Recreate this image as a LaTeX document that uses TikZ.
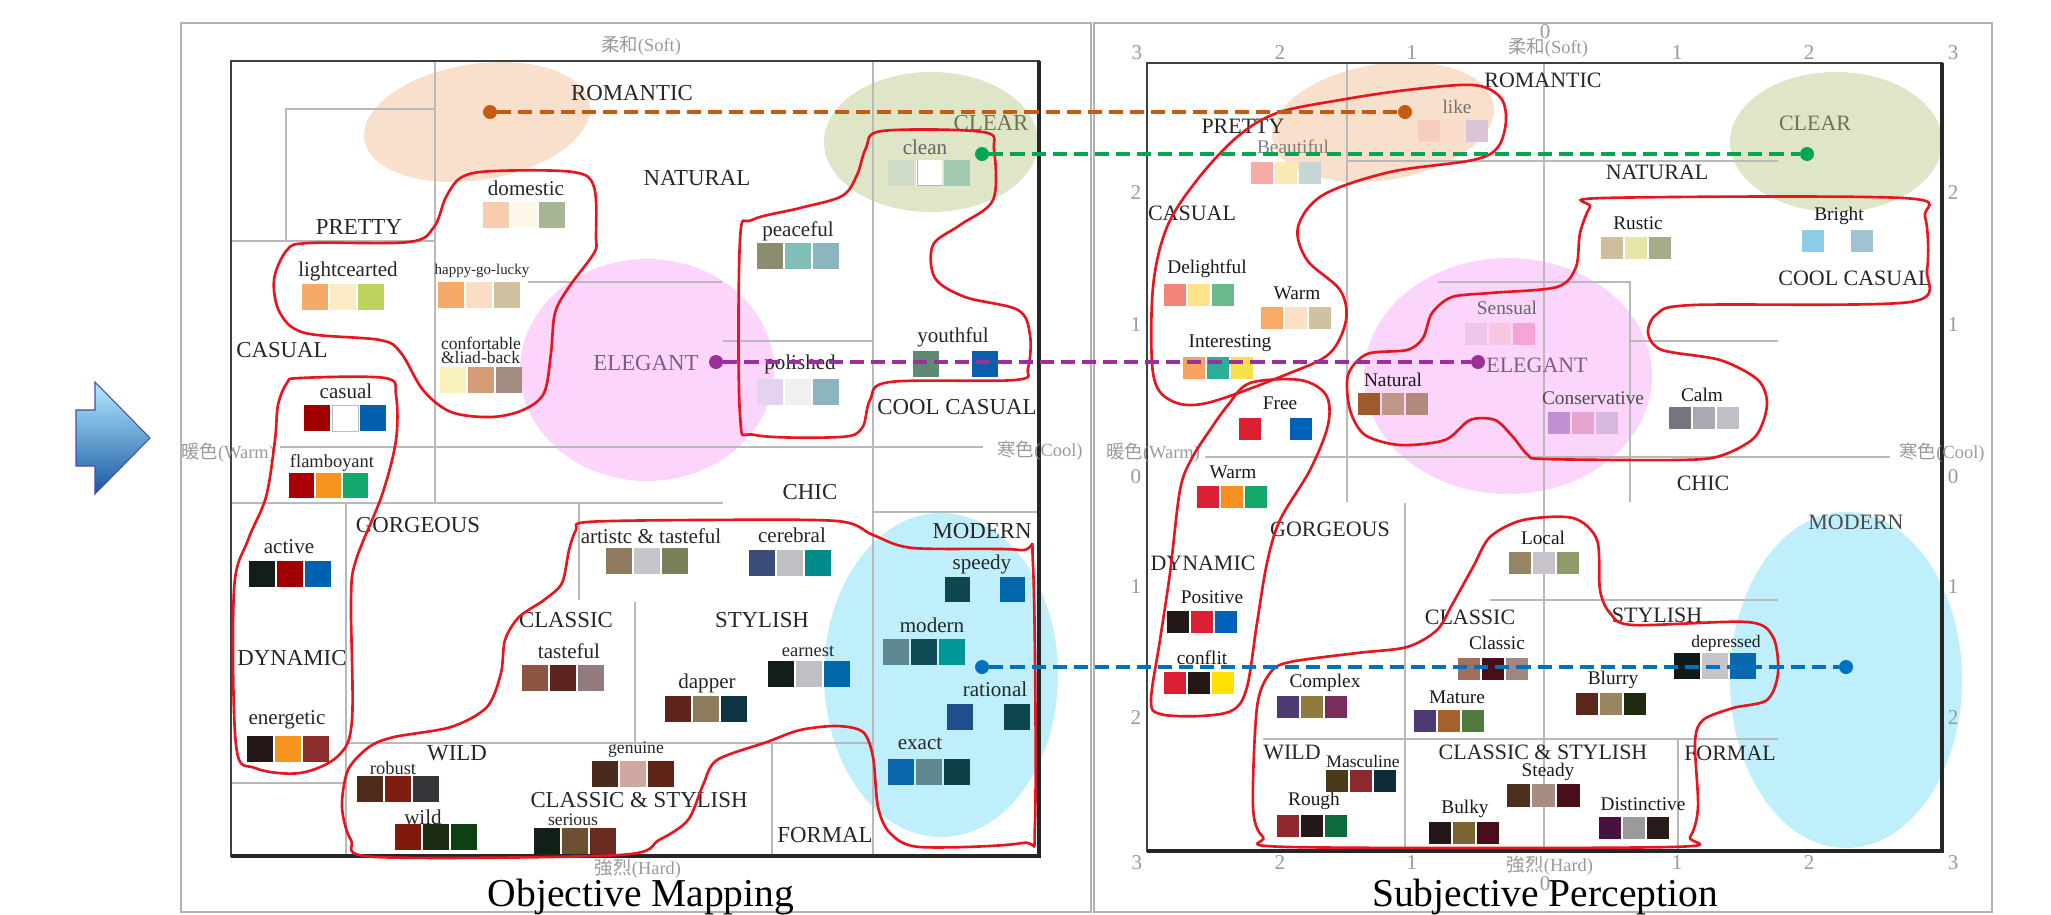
\documentclass[tikz,border=0pt]{standalone}
\usepackage{fontspec}
\setmainfont{Liberation Serif}
\newfontfamily\cjk{Noto Sans CJK JP}
\usetikzlibrary{calc}

\definecolor{peachzone}{HTML}{F9E0CC}
\definecolor{clearzone}{HTML}{DFE6C8}
\definecolor{pinkzone}{HTML}{FCD5FC}
\definecolor{bluezone}{HTML}{BFEFFB}
\definecolor{blobred}{HTML}{E8141E}
\definecolor{orangeline}{HTML}{C55A11}
\definecolor{greenline}{HTML}{00A651}
\definecolor{purpleline}{HTML}{9B309B}
\definecolor{blueline}{HTML}{0070C0}
\definecolor{clearText}{HTML}{6E7358}
\definecolor{elegantText}{HTML}{7B5E86}

\newcommand{\fs}[1]{\fontsize{#1}{#1}\selectfont}
% colour chips: left, top, size, list of hex colours
\newcommand{\chips}[4]{%
  \foreach \hx [count=\k from 0] in {#4}{%
    \definecolor{chipfill}{HTML}{\hx}%
    \fill[chipfill] ({#1+\k*(#3+2)},#2) rectangle ++(#3,#3);
  }}

\begin{document}
\begin{tikzpicture}[x=0.02cm,y=-0.02cm,
    catL/.style={font=\fs{13}, text=black!85, inner sep=0pt},
    catR/.style={font=\fs{12.5}, text=black!85, inner sep=0pt},
    wordL/.style={font=\fs{12}, text=black!85, inner sep=0pt},
    wordR/.style={font=\fs{11}, text=black!90, inner sep=0pt},
    ticklab/.style={font=\fs{12}, text=gray!80, inner sep=0pt},
    axislab/.style={font=\fs{10.5}, text=gray!80, inner sep=0pt},
    zoneline/.style={gray!55, line width=0.8pt},
    blob/.style={blobred, line width=1.5pt},
    hub/.style={circle, fill=#1, inner sep=0pt, minimum size=0.28cm},
    link/.style={draw=#1, line width=2.2pt, dash pattern=on 8pt off 4pt}]
  \useasboundingbox (0,0) rectangle (2051,914);

  % Panels
  \draw[gray!60, line width=1.5pt] (181,23) rectangle (1091,912);
  \draw[gray!60, line width=1.5pt] (1094,23) rectangle (1992,912);

  % Colour zones
  \fill[peachzone, rotate around={9:(477,122)}] (477,122) ellipse [x radius=114, y radius=58];
  \fill[clearzone] (931,142) ellipse [x radius=107, y radius=70];
  \fill[pinkzone] (647,370) ellipse [x radius=127, y radius=111];
  \fill[bluezone] (941,675) ellipse [x radius=117, y radius=162];
  \fill[peachzone, rotate around={9:(1383,122)}] (1383,122) ellipse [x radius=112, y radius=58];
  \fill[clearzone] (1836,142) ellipse [x radius=106, y radius=70];
  \fill[pinkzone] (1508,376) ellipse [x radius=144, y radius=118];
  \fill[bluezone] (1846,680) ellipse [x radius=116, y radius=168];

  % Image scale divisions (objective)
  \draw[zoneline] (435,61) -- (435,503);
  \draw[zoneline] (231,241) -- (435,241);
  \draw[zoneline] (286,241) -- (286,109) -- (435,109);
  \draw[zoneline] (528,282) -- (722,282);
  \draw[zoneline] (723,341) -- (873,341);
  \draw[zoneline] (280,447) -- (983,447);
  \draw[zoneline] (231,503) -- (723,503);
  \draw[zoneline] (873,61) -- (873,856);
  \draw[zoneline] (346,503) -- (346,856);
  \draw[zoneline] (579,503) -- (579,600);
  \draw[zoneline] (635,602) -- (635,742);
  \draw[zoneline] (346,743) -- (873,743);
  \draw[zoneline] (231,783) -- (346,783);
  \draw[zoneline] (772,743) -- (772,856);
  \draw[zoneline] (873,512) -- (1039,512);
  % Image scale divisions (subjective)
  \draw[zoneline] (1347,63) -- (1347,502);
  \draw[zoneline] (1544,63) -- (1544,851);
  \draw[zoneline] (1347,161) -- (1778,161);
  \draw[zoneline] (1438,282) -- (1630,282) -- (1630,502);
  \draw[zoneline] (1630,341) -- (1778,341);
  \draw[zoneline] (1205,457) -- (1890,457);
  \draw[zoneline] (1405,503) -- (1405,851);
  \draw[zoneline] (1490,600) -- (1778,600);
  \draw[zoneline] (1263,739) -- (1778,739);
  \draw[zoneline] (1678,739) -- (1678,851);

  % Plot boxes
  \draw[black!75, line width=1pt] (231,61) rectangle (1039,856);
  \draw[black!85, line width=2pt] (1039,61) -- (1039,856) -- (231,856);
  \draw[black!75, line width=1pt] (1147,63) rectangle (1942,851);
  \draw[black!85, line width=2pt] (1942,63) -- (1942,851) -- (1147,851);

  % Colour chips (objective)
  \chips{483}{202}{26}{F8CBAD,FDF8EA,A9B696}
  \chips{302}{284}{26}{F4AA6A,FCEBC6,BCD35E}
  \chips{438}{282}{26}{F4AA6A,FCDCC2,CFC09E}
  \chips{440}{367}{26}{FBF3BE,D49D78,A28C82}
  \chips{304}{405}{26}{A00000,FFFFFF,0060B0}
  \draw[gray!50] (332,405) rectangle ++(26,26);
  \chips{289}{473}{25}{A90008,F7941D,14A86C}
  \chips{249}{561}{26}{141E18,A00000,0061B0}
  \chips{247}{736}{26}{231815,F7941D,8C2D2D}
  \chips{888}{160}{26}{CFDCC8,FFFFFF,A2C8B0}
  \draw[gray!60] (917,160) -- (917,185) -- (943,185);
  \chips{757}{243}{26}{8E8C70,7FBFB7,8CB5C0}
  \chips{757}{379}{26}{E3D3EE,F0F0F0,8DB4C1}
  \chips{913}{351}{26}{5E8A72}
  \chips{972}{351}{26}{0B5FAA}
  \chips{606}{548}{26}{8E7B5D,C5C6CA,7A7F57}
  \chips{749}{550}{26}{3A4E7B,BEC0C3,008B8B}
  \chips{522}{665}{26}{8C5543,5C241C,927B7E}
  \chips{665}{696}{26}{5E241C,8C7B5D,0C3541}
  \chips{768}{661}{26}{141E18,BEC0C3,0068AA}
  \chips{945}{577}{25}{0E474F}
  \chips{1000}{577}{25}{0068AA}
  \chips{883}{639}{26}{5E8791,0F4D56,009896}
  \chips{947}{704}{26}{1E4F8A}
  \chips{1004}{704}{26}{0E4750}
  \chips{888}{759}{26}{0B65AA,5E8791,0F3F48}
  \chips{592}{761}{26}{4A2A1A,D0A6A0,5E2418}
  \chips{357}{776}{26}{4E2A1A,7F1D10,333538}
  \chips{395}{824}{26}{7F1A0B,1B2A10,0E4014}
  \chips{534}{828}{26}{122018,6E4F32,6A2A20}

  % Colour chips (subjective)
  \chips{1418}{120}{22}{F8CDBE,FBDCC8,D9C4D8}
  \chips{1251}{162}{22}{F6ABA7,FBE9B3,C6D6D4}
  \chips{1164}{284}{22}{F08577,FCE28B,6CB98E}
  \chips{1261}{307}{22}{F8AA66,FCE0C6,CFC2A3}
  \chips{1183}{357}{22}{F6A260,2DAE9A,F9E04A}
  \chips{1358}{393}{22}{9E5A2E,C09688,B3897E}
  \chips{1465}{323}{22}{EDC6EA,F9C6E0,F6A6D6}
  \chips{1548}{412}{22}{C090D6,E4A6CF,D6B8DE}
  \chips{1669}{407}{22}{76747E,AAA8B0,C2BEC6}
  \chips{1601}{237}{22}{CFBE9B,E4E6A6,A5AC8C}
  \chips{1802}{230}{22}{8ECDE8}
  \chips{1851}{230}{22}{A1C4D4}
  \chips{1239}{418}{22}{DB2030}
  \chips{1290}{418}{22}{0061B8}
  \chips{1197}{486}{22}{DC2033,F7901E,12A868}
  \chips{1167}{611}{22}{231815,DC2033,0061B8}
  \chips{1164}{672}{22}{DC2033,231815,FFE100}
  \chips{1509}{552}{22}{968564,C8C3CB,8D9B6A}
  \chips{1458}{658}{22}{A0705E,4A0E1A,A08780}
  \chips{1277}{696}{22}{4D3A72,907B3E,7A2C5C}
  \chips{1414}{710}{22}{4D3A72,A8612D,537A3E}
  \chips{1576}{693}{22}{5B271C,97865F,1D2A10}
  \chips{1674}{653}{26}{0F1A1A,C5C6CA,0B68AC}
  \chips{1326}{770}{22}{4B3A1A,8C2A2E,0D2C38}
  \chips{1277}{815}{22}{92282E,231815,0C6A3C}
  \chips{1429}{822}{22}{231815,7C6332,4A0E1A}
  \chips{1507}{784}{23}{4D2E1C,A68C82,4A0E1A}
  \chips{1599}{817}{22}{4A1040,9A9A9C,2A1A18}

  % Image words (objective)
  \node[catL] (romL) at (632,93) {ROMANTIC};
  \node[catL] (natL) at (697,178) {NATURAL};
  \node[catL, text=clearText] (clrL) at (991,123) {CLEAR};
  \node[catL] (preL) at (359,227) {PRETTY};
  \node[catL] (casL) at (282,350) {CASUAL};
  \node[catL, text=elegantText] (eleL) at (646,363) {ELEGANT};
  \node[catL] (cooL) at (957,407) {COOL CASUAL};
  \node[catL] (chiL) at (810,492) {CHIC};
  \node[catL] (gorL) at (418,525) {GORGEOUS};
  \node[catL] (modL) at (982,531) {MODERN};
  \node[catL] (claL) at (566,620) {CLASSIC};
  \node[catL] (styL) at (762,620) {STYLISH};
  \node[catL] (dynL) at (292,658) {DYNAMIC};
  \node[catL] (wilL) at (457,753) {WILD};
  \node[catL] (csL) at (639,800) {CLASSIC \& STYLISH};
  \node[catL] (forL) at (825,835) {FORMAL};

  \node[wordL] (domestic) at (526,188) {domestic};
  \node[wordL] (lightcearted) at (348,271) {lightcearted};
  \node[wordL, font=\fs{8.5}] (happy) at (482,271) {happy-go-lucky};
  \node[wordL, font=\fs{10}, align=left] (confort) at (481,350) {confortable\\[-2pt]\&liad-back};
  \node[wordL] (casual) at (346,391) {casual};
  \node[wordL, font=\fs{10.5}] (flamboyant) at (332,463) {flamboyant};
  \node[wordL] (active) at (289,547) {active};
  \node[wordL] (energetic) at (287,720) {energetic};
  \node[wordL, text=black!60] (clean) at (925,147) {clean};
  \node[wordL] (peaceful) at (798,231) {peaceful};
  \node[wordL] (youthful) at (953,337) {youthful};
  \node[wordL] (polished) at (800,364) {polished};
  \node[wordL] (artistc) at (651,536) {artistc \& tasteful};
  \node[wordL] (cerebral) at (792,535) {cerebral};
  \node[wordL] (tasteful) at (569,651) {tasteful};
  \node[wordL] (dapper) at (707,683) {dapper};
  \node[wordL, font=\fs{10.5}] (earnest) at (808,651) {earnest};
  \node[wordL] (speedy) at (982,564) {speedy};
  \node[wordL] (modern) at (932,625) {modern};
  \node[wordL] (rational) at (995,689) {rational};
  \node[wordL] (exact) at (920,744) {exact};
  \node[wordL, font=\fs{10}] (genuine) at (636,750) {genuine};
  \node[wordL, font=\fs{10.5}] (robust) at (393,768) {robust};
  \node[wordL] (wild) at (423,817) {wild};
  \node[wordL, font=\fs{10}] (serious) at (573,820) {serious};

  % Image words (subjective)
  \node[catR] (romR) at (1543,80) {ROMANTIC};
  \node[catR] (preR) at (1243,126) {PRETTY};
  \node[catR, text=clearText] (clrR) at (1815,123) {CLEAR};
  \node[catR] (natR) at (1657,172) {NATURAL};
  \node[catR] (casR) at (1192,213) {CASUAL};
  \node[catR] (cooR) at (1855,278) {COOL CASUAL};
  \node[catR, text=elegantText] (eleR) at (1537,365) {ELEGANT};
  \node[catR] (chiR) at (1703,483) {CHIC};
  \node[catR] (gorR) at (1330,529) {GORGEOUS};
  \node[catR, text=black!70] (modR) at (1856,522) {MODERN};
  \node[catR] (dynR) at (1203,563) {DYNAMIC};
  \node[catR] (claR) at (1470,617) {CLASSIC};
  \node[catR] (styR) at (1657,615) {STYLISH};
  \node[catR] (wilR) at (1292,752) {WILD};
  \node[catR] (csR) at (1543,752) {CLASSIC \& STYLISH};
  \node[catR] (forR) at (1730,753) {FORMAL};

  \node[wordR, text=black!55] (like) at (1457,107) {like};
  \node[wordR, text=black!50] (beautiful) at (1293,147) {Beautiful};
  \node[wordR] (delightful) at (1207,269) {Delightful};
  \node[wordR] (warmA) at (1297,293) {Warm};
  \node[wordR] (interesting) at (1230,343) {Interesting};
  \node[wordR] (naturalR) at (1393,380) {Natural};
  \node[wordR, text=black!60] (sensual) at (1507,308) {Sensual};
  \node[wordR, text=black!70] (conservative) at (1593,398) {Conservative};
  \node[wordR] (calm) at (1702,395) {Calm};
  \node[wordR] (rustic) at (1638,223) {Rustic};
  \node[wordR] (bright) at (1839,216) {Bright};
  \node[wordR] (free) at (1280,403) {Free};
  \node[wordR] (warmB) at (1233,472) {Warm};
  \node[wordR] (positive) at (1212,597) {Positive};
  \node[wordR] (conflit) at (1202,658) {conflit};
  \node[wordR] (local) at (1543,538) {Local};
  \node[wordR] (classicR) at (1497,643) {Classic};
  \node[wordR] (complex) at (1325,683) {Complex};
  \node[wordR] (mature) at (1457,697) {Mature};
  \node[wordR] (blurry) at (1613,680) {Blurry};
  \node[wordR, font=\fs{10}] (depressed) at (1726,643) {depressed};
  \node[wordR, font=\fs{10}] (masculine) at (1363,761) {Masculine};
  \node[wordR] (rough) at (1314,801) {Rough};
  \node[wordR] (bulky) at (1465,809) {Bulky};
  \node[wordR] (steady) at (1548,772) {Steady};
  \node[wordR] (distinctive) at (1643,804) {Distinctive};

  % Axes
  \node[axislab] (softL) at (641,46) {{\cjk 柔和}(Soft)};
  \node[axislab] (warmL) at (228,453) {{\cjk 暖色}(Warm)};
  \node[axislab] (coolL) at (1040,451) {{\cjk 寒色}(Cool)};
  \node[axislab] (hardL) at (638,869) {{\cjk 強烈}(Hard)};
  \node[axislab] (softR) at (1548,48) {{\cjk 柔和}(Soft)};
  \node[axislab] (warmR) at (1153,453) {{\cjk 暖色}(Warm)};
  \node[axislab] (coolR) at (1942,453) {{\cjk 寒色}(Cool)};
  \node[axislab] (hardR) at (1550,866) {{\cjk 強烈}(Hard)};
  \node[ticklab] (topzero) at (1545,32) {0};
  \node[ticklab] (botzero) at (1545,884) {0};
  \foreach \tx/\tv [count=\i] in {1137/3,1280/2,1412/1,1677/1,1809/2,1953/3}{
    \node[ticklab] (ttop\i) at (\tx,53) {\tv};
    \node[ticklab] (tbot\i) at (\tx,863) {\tv};
  }
  \foreach \ty/\tv [count=\i] in {193/2,325/1,477/0,587/1,718/2}{
    \node[ticklab] (tlft\i) at (1136,\ty) {\tv};
    \node[ticklab] (trgt\i) at (1953,\ty) {\tv};
  }

  % Groupings
  \draw[blob] plot[smooth cycle, tension=0.55] coordinates {(494,171) (573,172) (594,187) (596,237) (594,253) (569,287) (555,313) (551,353) (544,393) (523,410) (491,417) (451,412) (423,390) (401,353) (380,340) (305,333) (280,313) (274,280) (287,250) (309,243) (409,242) (434,227) (446,197) (462,177)};
  \draw[blob] plot[smooth cycle, tension=0.55] coordinates {(882,131) (983,132) (994,150) (993,200) (960,225) (933,245) (935,278) (965,297) (1018,310) (1030,335) (1028,368) (1015,380) (890,382) (870,400) (862,428) (840,437) (755,435) (740,415) (740,240) (752,220) (800,208) (842,196) (857,175) (866,148)};
  \draw[blob] plot[smooth cycle, tension=0.55] coordinates {(300,378) (385,378) (396,395) (396,440) (382,495) (356,560) (351,600) (352,720) (338,756) (300,773) (255,768) (236,745) (234,590) (248,540) (266,497) (275,440) (278,405) (287,383)};
  \draw[blob] plot[smooth cycle, tension=0.5] coordinates {(587,522) (700,520) (837,521) (873,535) (913,548) (1020,550) (1033,565) (1035,823) (1022,843) (920,847) (890,833) (878,807) (873,757) (863,732) (837,726) (800,730) (767,742) (717,760) (703,785) (688,820) (659,840) (619,855) (376,857) (351,840) (342,807) (348,770) (369,747) (394,737) (451,727) (487,707) (501,673) (505,640) (519,617) (544,600) (562,583) (569,550) (576,530)};
  \draw[blob] plot[smooth cycle, tension=0.55] coordinates {(1473,85) (1500,97) (1506,120) (1498,147) (1473,160) (1390,172) (1323,195) (1298,227) (1307,260) (1340,290) (1346,320) (1330,353) (1290,373) (1207,403) (1170,400) (1153,373) (1153,287) (1167,227) (1197,180) (1237,137) (1277,113) (1340,100) (1407,90)};
  \draw[blob] plot[smooth cycle, tension=0.55] coordinates {(1250,383) (1300,380) (1326,395) (1328,425) (1310,470) (1280,520) (1267,563) (1257,623) (1247,687) (1233,710) (1200,716) (1160,714) (1151,700) (1160,640) (1170,573) (1180,490) (1192,458) (1210,430) (1228,405)};
  \draw[blob] plot[smooth cycle, tension=0.5] coordinates {(1603,198) (1903,198) (1925,217) (1927,270) (1910,302) (1693,305) (1657,314) (1648,333) (1662,350) (1720,360) (1758,380) (1767,405) (1755,437) (1720,456) (1677,460) (1545,459) (1528,455) (1513,437) (1495,420) (1470,420) (1445,440) (1400,445) (1365,435) (1350,410) (1348,375) (1367,354) (1407,350) (1423,338) (1432,313) (1452,297) (1490,293) (1557,287) (1576,267) (1580,233) (1590,207)};
  \draw[blob] plot[smooth cycle, tension=0.5] coordinates {(1490,537) (1523,520) (1573,518) (1597,540) (1600,590) (1610,613) (1633,625) (1747,622) (1773,637) (1778,673) (1767,700) (1733,708) (1703,720) (1695,742) (1698,807) (1690,837) (1670,847) (1290,847) (1263,837) (1253,807) (1257,707) (1270,673) (1290,662) (1357,653) (1407,647) (1437,630) (1453,603) (1473,567)};

  % Correspondence
  \node[hub=orangeline] (romdotL) at (490,112) {};
  \node[hub=orangeline] (romdotR) at (1405,112) {};
  \node[hub=greenline] (clrdotL) at (982,154) {};
  \node[hub=greenline] (clrdotR) at (1807,154) {};
  \node[hub=purpleline] (eledotL) at (716,362) {};
  \node[hub=purpleline] (eledotR) at (1478,362) {};
  \node[hub=blueline] (moddotL) at (982,667) {};
  \node[hub=blueline] (moddotR) at (1846,667) {};
  \draw[link=orangeline] (romdotL) -- (romdotR);
  \draw[link=greenline] (clrdotL) -- (clrdotR);
  \draw[link=purpleline] (eledotL) -- (eledotR);
  \draw[link=blueline] (moddotL) -- (moddotR);

  % Arrow
  \shade[top color=blue!25!cyan!30, bottom color=blue!55!cyan!60!black!90, draw=blue!50!black!70, line width=0.6pt]
    (76,410) -- (95,410) -- (95,382) -- (150,438) -- (95,494) -- (95,466) -- (76,466) -- cycle;

  % Titles
  \node[font=\fs{22.5}] (titleL) at (641,897) {Objective Mapping};
  \node[font=\fs{22.5}] (titleR) at (1545,897) {Subjective Perception};
\end{tikzpicture}
\end{document}
